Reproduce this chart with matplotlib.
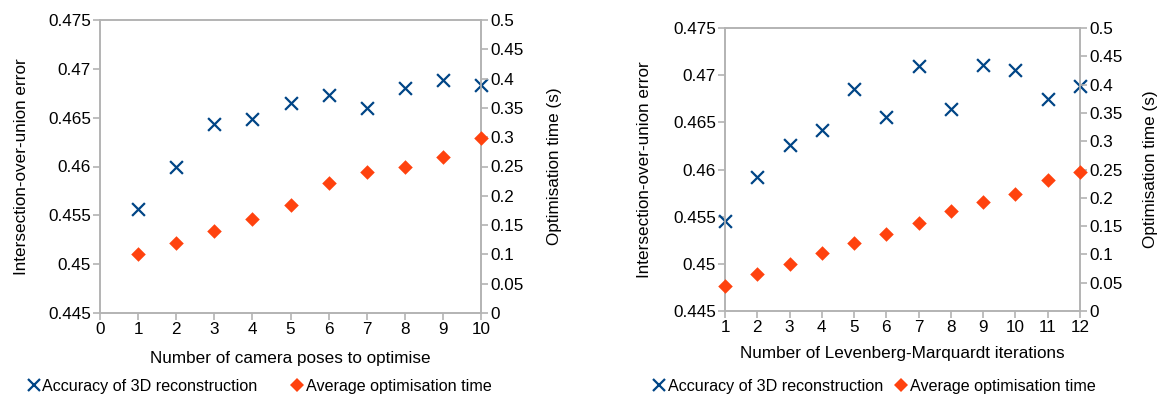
import matplotlib
matplotlib.use('Agg')
import matplotlib.pyplot as plt
from matplotlib.lines import Line2D

plt.rcParams['font.family'] = ['Liberation Sans', 'DejaVu Sans']

BLUE = '#004586'
ORANGE = '#ff420e'
SPINE = '#b3b3b3'

# ── data ─────────────────────────────────────────────────────────────
poses = [1, 2, 3, 4, 5, 6, 7, 8, 9, 10]
poses_iou = [0.4556, 0.4599, 0.4644, 0.4649, 0.4665, 0.4673, 0.4660,
             0.4680, 0.4689, 0.4683]
poses_time = [0.100, 0.119, 0.140, 0.161, 0.184, 0.222, 0.240, 0.250,
              0.267, 0.298]

iters = [1, 2, 3, 4, 5, 6, 7, 8, 9, 10, 11, 12]
iters_iou = [0.4545, 0.4592, 0.4626, 0.4642, 0.4685, 0.4656, 0.4710,
             0.4664, 0.4711, 0.4705, 0.4675, 0.4688]
iters_time = [0.045, 0.065, 0.083, 0.103, 0.120, 0.136, 0.155, 0.176,
              0.192, 0.206, 0.232, 0.245]

left_ticks = [0.445, 0.45, 0.455, 0.46, 0.465, 0.47, 0.475]
left_tick_labels = ['0.445', '0.45', '0.455', '0.46', '0.465', '0.47', '0.475']
right_ticks = [0, 0.05, 0.1, 0.15, 0.2, 0.25, 0.3, 0.35, 0.4, 0.45, 0.5]
right_tick_labels = ['0', '0.05', '0.1', '0.15', '0.2', '0.25', '0.3', '0.35',
                     '0.4', '0.45', '0.5']

FS = 12.3
LEG_FS = 11.6

fig = plt.figure(figsize=(11.63, 3.97), dpi=100)
W, H = 1163, 397


def panel(rect, xs, iou, t, xlim, xticks, xlabel, pads, legend_x, colsp):
    l, top, r, bot = rect
    ax = fig.add_axes([l / W, 1 - bot / H, (r - l) / W, (bot - top) / H])
    ax2 = ax.twinx()
    ax.scatter(xs, iou, marker='x', s=85, color=BLUE, linewidths=1.6,
               zorder=3, clip_on=False)
    ax2.scatter(xs, t, marker='D', s=55, color=ORANGE, linewidths=0,
                zorder=3, clip_on=False)
    ax.set_xlim(*xlim)
    ax.set_ylim(0.445, 0.475)
    ax2.set_ylim(0, 0.5)
    ax.set_xticks(xticks)
    ax.set_yticks(left_ticks)
    ax.set_yticklabels(left_tick_labels)
    ax2.set_yticks(right_ticks)
    ax2.set_yticklabels(right_tick_labels)
    for a in (ax, ax2):
        for s in a.spines.values():
            s.set_color(SPINE)
            s.set_linewidth(1.2)
        a.tick_params(colors=SPINE, labelcolor='black', labelsize=FS,
                      length=5, width=1.2, pad=1.5)
    ax.set_xlabel(xlabel, fontsize=FS, labelpad=pads[0])
    ax.set_ylabel('Intersection-over-union error', fontsize=FS,
                  labelpad=pads[1])
    ax2.set_ylabel('Optimisation time (s)', fontsize=FS, labelpad=pads[2])
    handles = [
        Line2D([], [], ls='none', marker='x', color=BLUE, markersize=8,
               markeredgewidth=1.6, label='Accuracy of 3D reconstruction'),
        Line2D([], [], ls='none', marker='D', color=ORANGE, markersize=7,
               markeredgewidth=0, label='Average optimisation time'),
    ]
    fig.legend(handles=handles, loc='center left', ncol=2, frameon=False,
               fontsize=LEG_FS, bbox_to_anchor=(legend_x / W, 1 - 386 / H),
               borderpad=0, borderaxespad=0,
               handlelength=0.7, handletextpad=0.2, columnspacing=colsp)
    return ax


panel((100, 20, 481, 313), poses, poses_iou, poses_time, (0, 10),
      list(range(0, 11)), 'Number of camera poses to optimise',
      (10, 14, 17), 28, 2.1)
panel((725, 28, 1080, 311), iters, iters_iou, iters_time, (1, 12),
      list(range(1, 13)), 'Number of Levenberg-Marquardt iterations',
      (8, 15, 15), 653, 0.8)

fig.savefig('out.png', dpi=100, facecolor='white')
